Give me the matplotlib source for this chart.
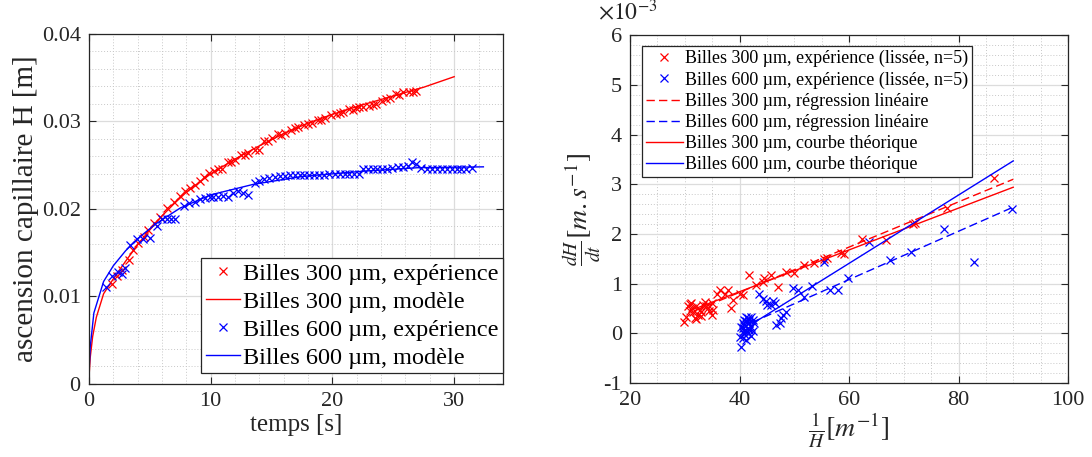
import matplotlib
matplotlib.use('Agg')
import matplotlib.pyplot as plt
from matplotlib.ticker import MultipleLocator, FuncFormatter

plt.rcParams['font.family'] = ['Liberation Serif', 'DejaVu Serif']
plt.rcParams['mathtext.fontset'] = 'stix'
plt.rcParams['axes.unicode_minus'] = False

# --- gauche : ascension capillaire H(t) ---
t_exp_300 = [1.91, 2.32, 2.73, 3.28, 3.63, 4.04, 4.51, 4.86, 5.33, 5.87, 6.42, 6.97,
             7.51, 7.92, 8.33, 8.74, 9.1, 9.43, 9.84, 10.3, 10.6, 10.9, 11.4, 11.7,
             12.0, 12.5, 12.8, 13.1, 13.6, 14.0, 14.4, 14.7, 15.0, 15.5, 15.8, 16.1,
             16.6, 16.9, 17.2, 17.7, 18.0, 18.3, 18.8, 19.1, 19.4, 19.9, 20.3, 20.6,
             20.85, 21.4, 21.7, 21.9, 22.2, 22.5, 23.0, 23.3, 23.6, 24.1, 24.4, 24.7,
             25.2, 25.5, 25.8, 26.3, 26.6, 26.9]
H_exp_300 = [0.0114, 0.0123, 0.0130, 0.0142, 0.0153, 0.0161, 0.0168, 0.0176, 0.0184,
             0.0191, 0.0201, 0.0208, 0.0215, 0.0220, 0.0224, 0.0227, 0.0232, 0.0236,
             0.0241, 0.0243, 0.0246, 0.0245, 0.0254, 0.0253, 0.0256, 0.0262, 0.0261,
             0.0264, 0.0267, 0.0267, 0.0277, 0.0278, 0.0281, 0.0285, 0.0284, 0.0287,
             0.0290, 0.0292, 0.0294, 0.0296, 0.0297, 0.0298, 0.0302, 0.0301, 0.0304,
             0.0307, 0.0308, 0.0310, 0.0311, 0.0314, 0.0313, 0.0315, 0.0316, 0.0316,
             0.0318, 0.0319, 0.0320, 0.0323, 0.0325, 0.0327, 0.0331, 0.0330, 0.0333,
             0.0334, 0.0333, 0.0335]

t_mod_300 = [0, 0.02, 0.1, 0.3, 0.6, 1.2, 2, 3, 4, 5, 6, 7, 8, 10, 12, 14, 16, 18,
             20, 22.5, 25, 27.5, 30]
H_mod_300 = [0, 0.0012, 0.0030, 0.0054, 0.0076, 0.0103, 0.0120, 0.0140, 0.0159,
             0.0176, 0.0192, 0.0206, 0.0219, 0.0240, 0.0257, 0.0272, 0.0286, 0.0298,
             0.0308, 0.0319, 0.0329, 0.0339, 0.0351]

t_exp_600 = [1.42, 1.86, 2.4, 2.7, 2.95, 3.36, 3.91, 4.45, 5.0, 5.55, 5.96, 6.4,
             6.7, 7.05, 7.8, 8.2, 8.74, 9.15, 9.56, 9.97, 10.2, 10.6, 11.0, 11.4,
             11.8, 12.2, 12.65, 13.1, 13.6, 14.0, 14.4, 14.8, 15.3, 15.7, 16.1, 16.5,
             16.9, 17.3, 17.7, 18.1, 18.5, 18.9, 19.3, 19.75, 20.2, 20.6, 21.0, 21.4,
             21.8, 22.2, 22.5, 22.9, 23.3, 23.7, 24.1, 24.5, 24.9, 25.4, 25.8, 26.2,
             26.5, 26.9, 27.3, 27.75, 28.2, 28.6, 29.0, 29.4, 29.8, 30.2, 30.6, 31.0,
             31.5]
H_exp_600 = [0.0111, 0.0123, 0.0128, 0.0126, 0.0132, 0.0159, 0.0165, 0.0165, 0.0167,
             0.0180, 0.0188, 0.0188, 0.0188, 0.0188, 0.0203, 0.0207, 0.0208, 0.0211,
             0.0212, 0.0213, 0.0214, 0.0214, 0.0215, 0.0214, 0.0218, 0.0220, 0.0218,
             0.0216, 0.0230, 0.0232, 0.0234, 0.0235, 0.0236, 0.0237, 0.0238, 0.0239,
             0.0239, 0.0239, 0.0239, 0.0239, 0.0239, 0.0239, 0.0239, 0.0240, 0.0240,
             0.0240, 0.0240, 0.0240, 0.0240, 0.0240, 0.0245, 0.0245, 0.0245, 0.0245,
             0.0245, 0.0246, 0.0247, 0.0248, 0.0248, 0.0249, 0.0253, 0.0251, 0.0247,
             0.0246, 0.0246, 0.0246, 0.0246, 0.0246, 0.0246, 0.0246, 0.0246, 0.0246,
             0.0247]

t_mod_600 = [0, 0.02, 0.1, 0.4, 1.2, 2, 3, 4, 5.5, 7.5, 10, 13.5, 17.5, 22.5, 27, 32.4]
H_mod_600 = [0, 0.0018, 0.0042, 0.0081, 0.0117, 0.0135, 0.0152, 0.0166, 0.0183,
             0.0201, 0.0216, 0.0228, 0.0237, 0.0243, 0.0247, 0.0248]

# --- droite : dH/dt en fonction de 1/H (dH/dt en 1e-3 m/s) ---
invH_300 = [29.8, 30.3, 30.6, 31.2, 31.5, 31.8, 32.1, 32.4, 32.7, 33.3, 33.6, 34.2,
            34.9, 35.2, 30.9, 31.0, 32.0, 33.0, 33.9, 34.5, 35.0, 31.4, 32.9, 35.8,
            36.4, 37.3, 37.9, 38.5, 38.8, 40.0, 40.6, 41.8, 43.0, 44.2, 44.5, 45.8,
            47.0, 48.5, 50.0, 51.8, 53.6, 55.5, 56.0, 58.5, 59.0, 62.4, 66.7, 71.7,
            72.1, 77.9, 86.4]
dHdt_300 = [0.23, 0.33, 0.54, 0.60, 0.43, 0.30, 0.54, 0.37, 0.47, 0.57, 0.63, 0.50,
            0.37, 0.47, 0.45, 0.58, 0.28, 0.42, 0.55, 0.45, 0.60, 0.50, 0.35, 0.80,
            0.87, 0.80, 0.87, 0.50, 0.67, 0.80, 0.77, 1.17, 0.97, 1.04, 1.11, 1.17,
            0.94, 1.24, 1.21, 1.37, 1.42, 1.49, 1.51, 1.61, 1.60, 1.89, 1.88, 2.20,
            2.22, 2.52, 3.12]

invH_600 = [40.3, 40.0, 40.6, 40.9, 41.2, 40.3, 40.6, 41.2, 41.5, 41.8, 42.1, 42.4,
            42.7, 41.2, 40.9, 41.8, 41.5, 40.6, 42.1, 40.9, 41.5, 42.4, 41.8, 41.2,
            40.6, 42.1, 41.5, 40.9,
            43.6, 44.2, 44.8, 45.1, 45.8, 46.1, 46.4, 46.7, 47.3, 47.6, 47.9, 48.5,
            49.7, 50.6, 51.8, 53.2, 55.5, 56.6, 58.0, 59.9, 63.6, 67.4, 71.3, 77.3,
            82.9, 89.7]
dHdt_600 = [-0.27, -0.07, 0.03, 0.17, 0.33, 0.13, 0.20, 0.07, 0.20, 0.27, 0.33, 0.27,
            0.20, -0.14, -0.02, 0.07, 0.00, -0.10, 0.13, 0.27, 0.10, 0.05, 0.20, 0.25,
            0.10, -0.05, 0.30, 0.05,
            0.80, 0.70, 0.64, 0.57, 0.57, 0.64, 0.61, 0.17, 0.20, 0.30, 0.37, 0.43,
            0.91, 0.87, 0.74, 0.95, 1.44, 0.87, 0.88, 1.12, 1.84, 1.48, 1.63, 2.10,
            1.44, 2.51]

reg_x_300 = [32.0, 90.0]
reg_y_300 = [0.46, 3.10]
reg_x_600 = [42.3, 90.0]
reg_y_600 = [0.22, 2.54]
th_x_300 = [32.0, 90.0]
th_y_300 = [0.50, 2.94]
th_x_600 = [42.3, 90.0]
th_y_600 = [0.19, 3.47]

RED = '#ff0000'
BLUE = '#0000ff'


def style_axes(ax, xmin, ymin):
    ax.xaxis.set_minor_locator(MultipleLocator(xmin))
    ax.yaxis.set_minor_locator(MultipleLocator(ymin))
    ax.grid(which='major', color='#dcdcdc', linewidth=0.9)
    ax.grid(which='minor', color='#c8c8c8', linestyle=(0, (1, 2)), linewidth=0.7)
    ax.set_axisbelow(True)
    ax.tick_params(which='major', direction='in', length=5, width=0.8,
                   top=True, right=True, labelsize=16, colors='#262626',
                   labelcolor='#262626', pad=6)
    ax.tick_params(which='minor', length=0)
    for s in ax.spines.values():
        s.set_color('#262626')
        s.set_linewidth(0.9)


def main():
    fig = plt.figure(figsize=(10.92, 4.57), dpi=100)

    # gauche
    ax1 = fig.add_axes([0.0815, 0.160, 0.379, 0.766])
    ax1.plot(t_exp_300, H_exp_300, 'x', color=RED, ms=6, mew=0.9,
             label='Billes 300 µm, expérience')
    ax1.plot(t_mod_300, H_mod_300, '-', color=RED, lw=1.0,
             label='Billes 300 µm, modèle')
    ax1.plot(t_exp_600, H_exp_600, 'x', color=BLUE, ms=6, mew=0.9,
             label='Billes 600 µm, expérience')
    ax1.plot(t_mod_600, H_mod_600, '-', color=BLUE, lw=1.0,
             label='Billes 600 µm, modèle')
    ax1.set_xlim(0, 34)
    ax1.set_ylim(0, 0.04)
    ax1.set_xticks([0, 10, 20, 30])
    ax1.set_yticks([0, 0.01, 0.02, 0.03, 0.04])
    ax1.yaxis.set_major_formatter(FuncFormatter(lambda v, p: '%g' % round(v, 4)))
    style_axes(ax1, 2, 0.002)
    ax1.set_xlabel('temps [s]', fontsize=18, color='#262626', labelpad=2)
    ax1.set_ylabel('ascension capillaire H [m]', fontsize=21, color='#262626',
                   labelpad=2)
    leg1 = ax1.legend(loc='lower right', bbox_to_anchor=(1.0, 0.03),
                      borderaxespad=0, fontsize=17.5, handlelength=1.4,
                      handletextpad=0.1, labelspacing=0.24, borderpad=0.2,
                      fancybox=False, framealpha=1, edgecolor='#262626')
    leg1.get_frame().set_linewidth(0.9)

    # droite
    ax2 = fig.add_axes([0.577, 0.162, 0.401, 0.761])
    ax2.plot(invH_300, dHdt_300, 'x', color=RED, ms=6, mew=0.9,
             label='Billes 300 µm, expérience (lissée, n=5)')
    ax2.plot(invH_600, dHdt_600, 'x', color=BLUE, ms=6, mew=0.9,
             label='Billes 600 µm, expérience (lissée, n=5)')
    ax2.plot(reg_x_300, reg_y_300, '--', color=RED, lw=1.0, dashes=(6, 3),
             label='Billes 300 µm, régression linéaire')
    ax2.plot(reg_x_600, reg_y_600, '--', color=BLUE, lw=1.0, dashes=(6, 3),
             label='Billes 600 µm, régression linéaire')
    ax2.plot(th_x_300, th_y_300, '-', color=RED, lw=1.0,
             label='Billes 300 µm, courbe théorique')
    ax2.plot(th_x_600, th_y_600, '-', color=BLUE, lw=1.0,
             label='Billes 600 µm, courbe théorique')
    ax2.set_xlim(20, 100)
    ax2.set_ylim(-1, 6)
    ax2.set_xticks([20, 40, 60, 80, 100])
    ax2.set_yticks([-1, 0, 1, 2, 3, 4, 5, 6])
    style_axes(ax2, 5, 0.2)
    ax2.text(-0.005, 1.03, r'$\times10^{-3}$', transform=ax2.transAxes,
             ha='center', va='bottom', fontsize=17, color='#262626')
    ax2.set_xlabel(r'$\frac{1}{H}\left[m^{-1}\right]$', fontsize=20,
                   color='#262626', labelpad=0)
    ax2.set_ylabel(r'$\frac{dH}{dt}\left[m.s^{-1}\right]$', fontsize=20,
                   color='#262626', labelpad=0)
    leg2 = ax2.legend(loc='upper left', bbox_to_anchor=(0.027, 0.968),
                      borderaxespad=0, fontsize=13, handlelength=2.1,
                      handletextpad=0.1, labelspacing=0.23, borderpad=0.2,
                      fancybox=False, framealpha=1, edgecolor='#262626')
    leg2.get_frame().set_linewidth(0.9)

    fig.savefig('out.png', dpi=100)


if __name__ == '__main__':
    main()
